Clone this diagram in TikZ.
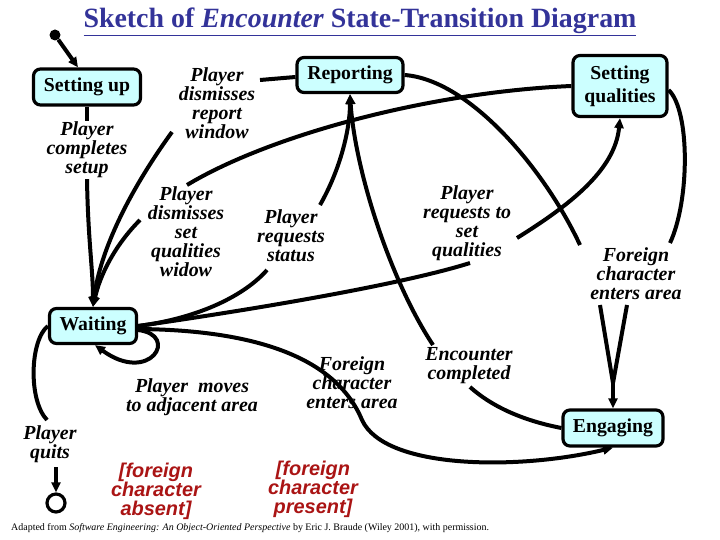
\documentclass[tikz,border=0pt]{standalone}
\usepackage{fontspec}
\setmainfont{Liberation Serif}
\newfontfamily\guardfont{Liberation Sans}
\usepackage{tikz}
\usetikzlibrary{arrows.meta}
\definecolor{statefill}{RGB}{204,255,255}
\definecolor{titleblue}{RGB}{51,51,153}
\definecolor{guardred}{RGB}{170,20,20}

\begin{document}
\begin{tikzpicture}[x=1bp, y=-1bp,
  state/.style={draw, line width=3.2bp, fill=statefill, rounded corners=7bp,
                inner sep=0pt, align=center,
                font=\fontsize{19.8}{23}\selectfont\bfseries},
  evt/.style={font=\fontsize{20}{19}\selectfont\bfseries\itshape,
              align=center, inner sep=1bp},
  guard/.style={text=guardred, align=center, inner sep=1bp,
                font=\guardfont\fontsize{20}{19}\selectfont\bfseries\itshape},
  link/.style={line width=4bp},
  trans/.style={line width=4bp, -{Triangle[length=10bp,width=9bp]}},
]
\useasboundingbox (0,0) rectangle (720,540);

% ---- Title ----
\node[text=titleblue, font=\fontsize{28}{32}\selectfont\bfseries] (title) at (360,22)
  {\underline{Sketch of \textit{Encounter} State-Transition Diagram}};

% ---- States ----
\node[circle, fill, minimum size=11bp, inner sep=0pt] (startdot) at (55,35) {};
\node[state, minimum width=107bp, minimum height=36bp] (setup)    at (87,87)   {Setting up};
\node[state, minimum width=106bp, minimum height=35bp] (report)   at (350,75)  {Reporting};
\node[state, minimum width=94bp,  minimum height=61bp] (quals)    at (620,86)  {Setting\\qualities};
\node[state, minimum width=87bp,  minimum height=35bp] (waiting)  at (93,326)  {Waiting};
\node[state, minimum width=100bp, minimum height=36bp] (engaging) at (613,428) {Engaging};
\node[circle, draw, line width=3.2bp, minimum size=18bp, inner sep=0pt] (endstate) at (56,503) {};

% ---- Event labels ----
\node[evt] (lcomplete)  at (87,150)  {Player\\completes\\setup};
\node[evt] (ldismrep)   at (217,103) {Player\\dismisses\\report\\window};
\node[evt] (ldismqual)  at (186,232) {Player\\dismisses\\set\\qualities\\widow};
\node[evt] (lstatus)    at (291,236) {Player\\requests\\status};
\node[evt] (lsetq)      at (467,223) {Player\\requests to\\set\\qualities};
\node[evt] (lforeignr)  at (636,274) {Foreign\\character\\enters area};
\node[evt] (lcompleted) at (469,366) {Encounter\\completed};
\node[evt] (lmoves)     at (192,397) {Player \ moves\\to adjacent area};
\node[evt] (lquits)     at (50,444)  {Player\\quits};
\node[guard] (gabsent)  at (156,491) {[foreign\\character\\absent]};
\node[guard] (gpresent) at (313,489) {[foreign\\character\\present]};

% ---- Free ends next to the labels ----
\coordinate (crep)   at (260,80);
\coordinate (crep2)  at (172,132);
\coordinate (cqual)  at (187,185);
\coordinate (cqual2) at (140,220);
\coordinate (cstat)  at (267,270);
\coordinate (cstat2) at (320,205);
\coordinate (csetq)  at (470,263);
\coordinate (csetq2) at (517,238);
\coordinate (ccomp)  at (470,387);
\coordinate (ccomp2) at (433,345);
\coordinate (cfa)    at (580,245);
\coordinate (cfb)    at (670,243);
\coordinate (cfc)    at (600,305);
\coordinate (cfd)    at (627,305);
\coordinate (cjoin)  at (613,383);
\coordinate (cquit)  at (47,420);
\coordinate (cquit2) at (56,467);

% ---- Transitions ----
\draw[trans] (startdot) -- ([xshift=-9bp]setup.north);
\draw[link]  (setup.south) -- (lcomplete.north);
\draw[trans] (lcomplete.south) .. controls (88,240) and (93,270) .. (waiting.north);

\draw[link]  ([yshift=-2bp]report.west) -- (crep);
\draw[trans] (crep2) .. controls (130,190) and (100,250) .. (waiting.north);

\draw[link]  (quals.west) .. controls (430,92) and (270,135) .. (cqual);
\draw[trans] (cqual2) .. controls (115,245) and (100,275) .. (waiting.north);

\draw[link]  (waiting.east) .. controls (200,318) and (245,295) .. (cstat);
\draw[trans] (cstat2) .. controls (340,170) and (350,130) .. (report.south);

\draw[link]  (waiting.east) .. controls (250,310) and (400,285) .. (csetq);
\draw[trans] (csetq2) .. controls (570,205) and (615,170) .. (quals.south);

\draw[link]  (engaging.west) .. controls (520,420) and (490,405) .. (ccomp);
\draw[trans] (ccomp2) .. controls (390,280) and (355,170) .. (report.south);

\draw[link]  (report.east) .. controls (470,80) and (545,170) .. (cfa);
\draw[link]  ([yshift=-4bp]quals.east) .. controls (690,110) and (690,200) .. (cfb);
\foreach \c in {cfc, cfd}
  \draw[link] (\c) -- (cjoin);
\draw[trans] (cjoin) -- (engaging.north);

\draw[trans] ([yshift=-3bp]waiting.east) .. controls (250,330) and (335,355) .. (362,420)
  .. controls (385,470) and (520,470) .. (engaging.south);
\node[evt] (lforeignw) at (352,383) {Foreign\\character\\enters area};

\draw[trans] ([yshift=-4bp]waiting.east) .. controls (180,335) and (150,385) .. ([xshift=2bp]waiting.south);

\draw[link]  (waiting.west) .. controls (30,340) and (28,400) .. (cquit);
\draw[trans] (cquit2) -- (endstate.north);

% ---- Credit line ----
\node[anchor=west, inner sep=0pt, font=\fontsize{10}{11}\selectfont] (credit) at (11,528)
  {Adapted from \textit{Software Engineering: An Object-Oriented Perspective} by Eric J. Braude (Wiley 2001), with permission.};
\end{tikzpicture}
\end{document}
